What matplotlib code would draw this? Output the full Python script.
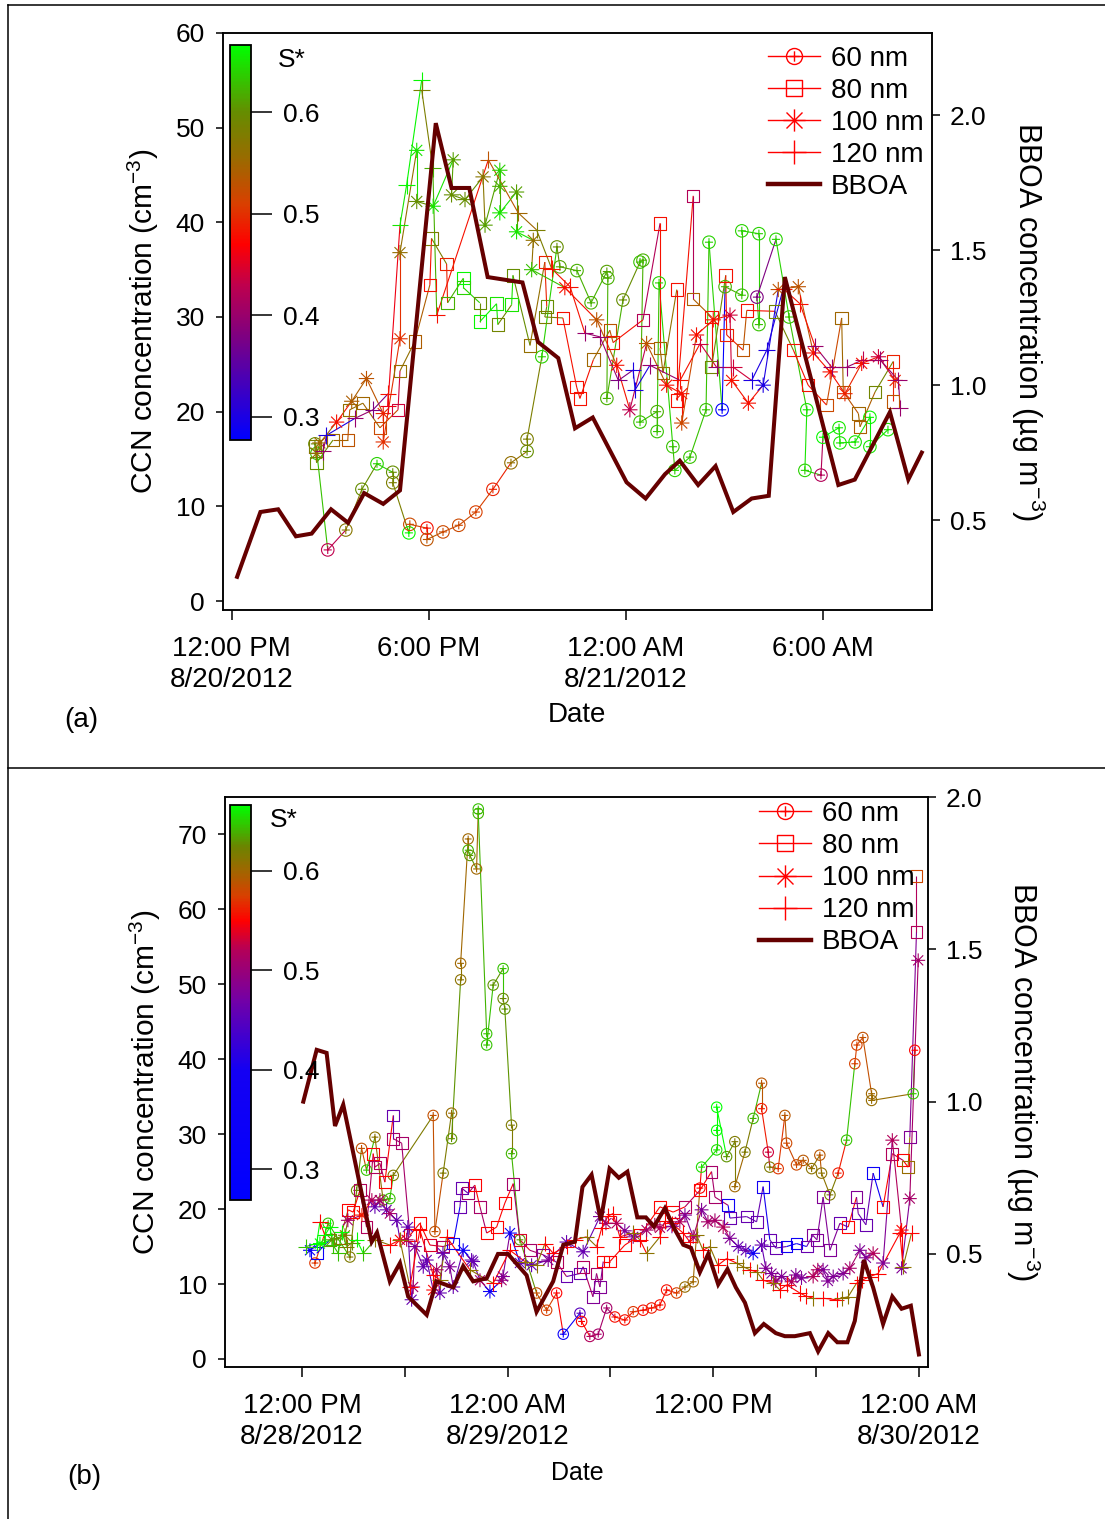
import numpy as np
import matplotlib
matplotlib.use("Agg")
import matplotlib.pyplot as plt
from matplotlib.path import Path
from matplotlib.collections import LineCollection
from matplotlib.colors import LinearSegmentedColormap, Normalize
from matplotlib.cm import ScalarMappable
from matplotlib.lines import Line2D

plt.rcParams['font.family'] = ['Liberation Sans', 'DejaVu Sans']
plt.rcParams['mathtext.default'] = 'regular'
plt.rcParams['axes.linewidth'] = 1.1

# ---------------- panel (a): hours since 8/20/2012 00:00 ----------------
t60a = [14.53, 14.59, 14.92, 15.47, 15.96, 16.42, 16.90, 16.90, 17.39, 17.42, 17.94, 17.94, 18.43, 18.91, 19.43,
        19.95, 20.50, 20.99, 20.99, 21.44, 21.90, 21.99, 22.51, 22.94, 23.42, 23.45, 23.42, 23.91, 24.43, 24.52,
        24.43, 24.95, 24.95, 25.01, 25.43, 25.49, 25.95, 26.44, 26.53, 26.93, 27.02, 27.53, 27.53, 28.05, 28.05,
        27.99, 28.57, 28.97, 29.51, 29.45, 29.94, 30.00, 30.49, 30.52, 30.98, 31.43, 31.43, 31.98]
c60a = [16.6, 15.6, 5.4, 7.5, 11.8, 14.5, 13.6, 12.5, 7.2, 8.1, 7.7, 6.5, 7.3, 8.0, 9.4,
        11.8, 14.6, 15.8, 17.1, 25.8, 37.4, 35.3, 34.9, 31.5, 34.8, 34.1, 21.4, 31.8, 35.8, 36.0,
        18.9, 20.0, 17.9, 33.6, 16.3, 13.8, 15.2, 20.2, 37.9, 20.2, 33.2, 32.3, 39.1, 38.8, 29.2,
        32.1, 38.2, 30.0, 20.2, 13.8, 13.3, 17.3, 18.3, 16.7, 16.8, 19.4, 16.3, 18.1]
s60a = [0.60, 0.63, 0.43, 0.57, 0.60, 0.64, 0.60, 0.58, 0.66, 0.52, 0.48, 0.53, 0.52, 0.52, 0.51,
        0.49, 0.56, 0.60, 0.58, 0.64, 0.60, 0.61, 0.62, 0.62, 0.61, 0.62, 0.62, 0.60, 0.63, 0.62,
        0.63, 0.62, 0.63, 0.64, 0.63, 0.64, 0.63, 0.63, 0.64, 0.28, 0.62, 0.63, 0.64, 0.64, 0.63,
        0.38, 0.64, 0.63, 0.65, 0.64, 0.42, 0.66, 0.65, 0.65, 0.65, 0.66, 0.65, 0.65]

t80a = [14.53, 14.58, 15.08, 15.53, 15.59, 15.99, 16.51, 17.06, 17.12, 17.57, 18.03, 18.08, 18.54, 18.57, 19.05,
        19.05, 19.55, 19.55, 20.06, 20.10, 20.52, 20.56, 21.08, 21.53, 21.59, 21.53, 22.08, 22.50, 22.60, 23.01,
        23.51, 23.61, 24.52, 25.04, 25.04, 25.13, 25.55, 25.55, 26.05, 26.05, 26.61, 26.61, 27.04, 27.07, 27.57,
        27.68, 28.54, 29.10, 29.55, 30.11, 30.57, 30.62, 31.08, 31.13, 31.59, 32.14, 32.14]
c80a = [16.3, 14.6, 17.0, 17.0, 20.2, 20.9, 18.3, 20.2, 24.3, 27.4, 33.4, 38.3, 35.6, 31.5, 34.1,
        33.1, 31.5, 29.5, 31.4, 29.2, 31.3, 34.4, 27.0, 35.8, 31.1, 30.0, 29.9, 22.6, 21.4, 25.5,
        28.6, 27.3, 29.7, 39.9, 26.7, 24.1, 32.9, 21.2, 42.8, 31.9, 30.0, 24.7, 34.4, 28.1, 26.5,
        30.7, 30.6, 26.5, 22.8, 20.7, 29.9, 22.1, 19.8, 18.4, 22.1, 25.3, 21.1]
s80a = [0.58, 0.60, 0.55, 0.53, 0.56, 0.55, 0.52, 0.44, 0.56, 0.54, 0.48, 0.58, 0.49, 0.62, 0.66,
        0.64, 0.60, 0.66, 0.65, 0.59, 0.65, 0.60, 0.56, 0.49, 0.60, 0.58, 0.48, 0.48, 0.48, 0.55,
        0.53, 0.48, 0.42, 0.48, 0.55, 0.56, 0.48, 0.48, 0.42, 0.54, 0.48, 0.59, 0.48, 0.49, 0.53,
        0.48, 0.59, 0.48, 0.48, 0.52, 0.55, 0.53, 0.55, 0.54, 0.59, 0.49, 0.53]

t100a = [14.58, 14.68, 15.19, 15.65, 16.10, 16.61, 16.61, 17.12, 17.12, 17.63, 17.63, 18.13, 18.74, 18.69, 19.10,
         19.65, 19.71, 20.16, 20.16, 20.16, 20.67, 20.67, 21.18, 21.13, 22.14, 23.11, 23.72, 24.12, 24.63, 25.24,
         25.70, 25.70, 26.15, 26.66, 27.17, 27.22, 27.73, 28.18, 28.64, 29.25, 29.71, 30.22, 30.67, 31.18, 31.69,
         32.20]
c100a = [15.6, 16.7, 18.9, 21.1, 23.5, 19.8, 16.8, 27.7, 36.8, 47.6, 42.2, 41.7, 46.6, 42.9, 42.4,
         44.8, 39.7, 45.5, 43.8, 41.0, 43.2, 39.0, 38.1, 35.0, 33.1, 29.7, 24.9, 20.2, 27.2, 22.8,
         21.9, 18.8, 28.1, 29.7, 30.2, 23.3, 20.9, 22.8, 32.9, 33.2, 26.2, 24.2, 21.9, 25.1, 25.8,
         23.3]
s100a = [0.56, 0.55, 0.48, 0.54, 0.53, 0.49, 0.50, 0.50, 0.56, 0.65, 0.60, 0.65, 0.61, 0.60, 0.60,
         0.57, 0.61, 0.64, 0.62, 0.65, 0.61, 0.65, 0.56, 0.63, 0.48, 0.53, 0.48, 0.43, 0.53, 0.48,
         0.48, 0.52, 0.48, 0.48, 0.44, 0.48, 0.48, 0.30, 0.53, 0.53, 0.48, 0.48, 0.49, 0.48, 0.44,
         0.49]

t120a = [14.78, 14.88, 15.75, 16.30, 16.76, 16.75, 17.12, 17.32, 17.78, 17.78, 18.12, 18.24, 19.81, 20.72, 21.28,
         21.74, 22.30, 22.75, 23.21, 23.77, 24.22, 24.28, 24.73, 25.65, 26.26, 26.76, 27.27, 27.83, 28.29, 28.79,
         29.30, 29.76, 30.27, 30.72, 31.23, 31.74, 32.30, 32.35]
c120a = [15.8, 17.5, 19.3, 20.2, 21.9, 20.6, 39.7, 43.9, 55.0, 54.0, 45.7, 30.2, 46.6, 41.0, 39.2,
         35.1, 33.2, 28.3, 27.9, 23.3, 24.4, 22.3, 24.9, 23.3, 27.2, 24.7, 24.7, 23.3, 26.5, 33.0,
         31.4, 26.9, 24.7, 24.7, 25.5, 25.5, 23.3, 20.4]
s120a = [0.40, 0.30, 0.40, 0.38, 0.48, 0.46, 0.65, 0.66, 0.66, 0.58, 0.62, 0.48, 0.53, 0.55, 0.58,
         0.48, 0.48, 0.40, 0.40, 0.38, 0.30, 0.30, 0.40, 0.48, 0.44, 0.40, 0.44, 0.30, 0.30, 0.48,
         0.48, 0.40, 0.40, 0.40, 0.43, 0.40, 0.40, 0.40]

tbba = [12.16, 12.87, 13.41, 13.95, 14.43, 15.02, 15.54, 16.03, 16.61, 17.12, 18.21, 18.69, 19.23, 19.79, 20.85,
        21.32, 21.94, 22.45, 22.99, 24.02, 24.60, 25.19, 25.64, 26.20, 26.73, 27.27, 27.83, 28.35, 28.84, 30.47,
        30.97, 32.04, 32.60, 33.01]
vbba = [0.29, 0.53, 0.54, 0.44, 0.45, 0.54, 0.49, 0.60, 0.56, 0.61, 1.97, 1.73, 1.73, 1.40, 1.38,
        1.16, 1.10, 0.84, 0.88, 0.64, 0.58, 0.67, 0.72, 0.63, 0.70, 0.53, 0.58, 0.59, 1.40, 0.63,
        0.65, 0.90, 0.65, 0.75]

# ---------------- panel (b): hours since 8/28/2012 00:00 ----------------
t60b = [12.76, 13.53, 14.80, 15.19, 15.48, 15.77, 16.26, 16.74, 17.13, 17.33, 19.66, 19.76, 20.24, 20.73, 20.73,
        21.26, 21.26, 21.70, 21.70, 21.80, 22.19, 22.29, 22.29, 22.78, 22.78, 23.16, 23.74, 23.74, 23.84, 24.23,
        24.23, 24.72, 25.69, 26.28, 26.86, 27.25, 28.22, 28.32, 28.80, 29.29, 29.78, 30.26, 30.84, 31.33, 31.91,
        32.40, 32.89, 33.28, 33.86, 34.35, 34.83, 35.22, 35.32, 36.20, 36.20, 36.20, 36.78, 37.26, 37.26, 37.85,
        38.33, 38.82, 38.82, 39.21, 39.30, 39.79, 40.18, 40.28, 40.86, 41.25, 41.74, 42.22, 42.32, 42.81, 43.29,
        43.78, 44.26, 44.38, 44.73, 45.24, 45.24, 47.67, 47.76]
c60b = [12.8, 18.1, 13.6, 22.5, 28.1, 25.2, 29.6, 21.2, 21.4, 24.5, 32.5, 17.0, 24.8, 32.8, 29.4,
        50.6, 52.8, 69.4, 67.9, 67.2, 65.4, 73.4, 72.8, 43.4, 41.9, 49.9, 52.1, 48.1, 46.7, 31.2,
        27.4, 15.9, 8.8, 6.5, 8.8, 3.3, 6.1, 5.0, 3.0, 3.3, 6.8, 5.6, 5.2, 6.3, 6.5,
        6.8, 7.2, 9.2, 8.8, 9.6, 10.3, 22.8, 25.6, 27.9, 30.5, 33.6, 27.0, 29.0, 23.0, 27.6,
        32.1, 36.8, 33.4, 27.6, 25.6, 25.4, 32.5, 28.8, 25.9, 26.5, 25.4, 27.2, 24.8, 21.9, 24.8,
        29.2, 39.4, 41.9, 42.9, 35.4, 34.5, 35.4, 41.2]
s60b = [0.57, 0.645, 0.615, 0.625, 0.585, 0.645, 0.61, 0.625, 0.645, 0.615, 0.585, 0.585, 0.615, 0.605, 0.63,
        0.61, 0.60, 0.60, 0.64, 0.63, 0.60, 0.645, 0.64, 0.645, 0.645, 0.63, 0.645, 0.625, 0.63, 0.615,
        0.64, 0.63, 0.585, 0.575, 0.55, 0.34, 0.45, 0.55, 0.52, 0.51, 0.51, 0.555, 0.555, 0.57, 0.555,
        0.56, 0.555, 0.555, 0.575, 0.605, 0.60, 0.55, 0.655, 0.655, 0.665, 0.665, 0.63, 0.615, 0.60, 0.615,
        0.64, 0.59, 0.56, 0.53, 0.615, 0.57, 0.59, 0.58, 0.58, 0.59, 0.61, 0.59, 0.61, 0.615, 0.56,
        0.645, 0.575, 0.575, 0.585, 0.60, 0.605, 0.645, 0.55]

t80b = [12.86, 13.63, 14.22, 14.70, 14.99, 15.38, 15.77, 16.16, 16.26, 16.55,
        16.84, 17.33, 17.33, 17.82, 18.30, 18.88, 19.47, 20.24, 20.83, 21.22,
        21.32, 21.70, 22.09, 22.39, 22.78, 23.36, 23.84, 24.33, 24.72, 25.30,
        26.08, 26.86, 27.44, 28.22, 28.41, 28.98, 29.19, 29.39, 29.58, 29.97,
        30.84, 31.72, 32.89, 33.66, 34.35, 35.22, 35.90, 36.10, 36.87, 36.97,
        37.95, 38.53, 38.91, 39.30, 39.65, 40.28, 40.86, 41.45, 41.81, 42.05,
        42.41, 42.81, 43.39, 43.87, 44.36, 44.46, 44.91, 45.33, 45.91, 46.45,
        47.08, 47.37, 47.47, 47.86, 47.86]
c80b = [14.1, 15.9, 16.1, 19.9, 19.6, 22.5, 17.6, 27.4, 25.6, 26.1,
        23.6, 32.5, 29.4, 28.8, 16.5, 18.1, 15.2, 15.0, 15.4, 20.3,
        22.8, 22.1, 23.2, 20.3, 16.8, 17.6, 20.8, 23.4, 15.9, 14.5,
        13.9, 12.9, 11.0, 11.4, 12.3, 8.3, 11.4, 9.6, 13.0, 13.0,
        15.2, 16.5, 20.3, 19.6, 20.3, 22.5, 25.0, 21.6, 20.5, 18.8,
        19.0, 18.3, 23.0, 15.9, 14.8, 15.0, 15.4, 15.0, 16.5, 15.9,
        21.6, 14.5, 18.1, 17.6, 21.6, 19.4, 17.9, 24.8, 20.3, 27.4,
        26.5, 25.6, 29.6, 57.0, 64.5]
s80b = [0.34, 0.63, 0.605, 0.55, 0.55, 0.52, 0.52, 0.55, 0.52, 0.52,
        0.55, 0.46, 0.51, 0.51, 0.55, 0.55, 0.535, 0.52, 0.36, 0.46,
        0.46, 0.51, 0.55, 0.51, 0.55, 0.55, 0.55, 0.51, 0.535, 0.51,
        0.48, 0.52, 0.46, 0.46, 0.52, 0.48, 0.51, 0.48, 0.55, 0.55,
        0.55, 0.55, 0.55, 0.55, 0.52, 0.55, 0.51, 0.51, 0.36, 0.46,
        0.46, 0.46, 0.40, 0.46, 0.46, 0.36, 0.36, 0.46, 0.48, 0.48,
        0.48, 0.48, 0.46, 0.55, 0.48, 0.46, 0.46, 0.34, 0.55, 0.52,
        0.55, 0.605, 0.48, 0.52, 0.58]

t100b = [12.47, 13.05, 13.75, 14.51, 14.68, 15.50, 16.08, 16.26, 16.55, 16.94,
         17.13, 17.53, 17.72, 18.11, 18.18, 18.40, 18.49, 18.59, 19.08, 19.28,
         19.66, 19.86, 20.05, 20.23, 20.63, 20.83, 21.41, 21.90, 21.99, 22.39,
         22.97, 23.65, 23.73, 24.14, 24.72, 25.40, 26.37, 27.44, 28.41, 29.39,
         29.74, 30.36, 30.84, 31.33, 32.11, 32.59, 32.89, 33.59, 34.05, 34.35,
         34.83, 35.32, 35.69, 36.10, 36.58, 36.97, 37.46, 37.90, 38.33, 38.82,
         39.07, 39.40, 39.65, 39.99, 40.57, 40.82, 41.15, 41.83, 42.10, 42.41,
         42.69, 43.00, 43.58, 43.97, 44.56, 44.91, 45.33, 45.91, 46.45, 46.99,
         46.99, 47.47, 47.96]
c100b = [14.5, 15.4, 15.9, 16.5, 18.5, 19.2, 21.2, 20.3, 21.2, 19.9,
         19.4, 18.5, 15.9, 15.9, 17.6, 7.9, 9.6, 15.0, 12.3, 13.2,
         9.2, 11.9, 8.8, 14.1, 12.3, 9.6, 14.5, 13.2, 13.0, 10.5,
         9.0, 10.5, 11.0, 16.8, 12.8, 12.5, 13.2, 15.6, 14.3, 19.0,
         18.1, 18.1, 17.1, 16.3, 17.2, 17.9, 17.5, 17.7, 18.3, 19.2,
         16.3, 19.9, 18.3, 18.5, 17.6, 16.1, 15.0, 14.5, 14.1, 15.2,
         12.1, 11.4, 10.4, 11.0, 10.3, 11.2, 10.8, 11.0, 11.9, 11.9,
         10.4, 11.0, 11.4, 12.1, 14.5, 13.5, 14.1, 12.8, 29.2, 17.2,
         12.1, 21.4, 53.2]
s100b = [0.34, 0.665, 0.63, 0.615, 0.51, 0.56, 0.52, 0.46, 0.51, 0.46,
         0.51, 0.46, 0.55, 0.52, 0.46, 0.46, 0.51, 0.48, 0.46, 0.46,
         0.55, 0.51, 0.46, 0.46, 0.48, 0.46, 0.36, 0.46, 0.46, 0.51,
         0.36, 0.51, 0.48, 0.36, 0.46, 0.46, 0.48, 0.46, 0.46, 0.48,
         0.51, 0.52, 0.48, 0.48, 0.51, 0.52, 0.52, 0.48, 0.52, 0.48,
         0.51, 0.48, 0.51, 0.51, 0.52, 0.48, 0.46, 0.46, 0.36, 0.46,
         0.48, 0.48, 0.51, 0.48, 0.52, 0.48, 0.48, 0.52, 0.52, 0.48,
         0.48, 0.48, 0.48, 0.51, 0.48, 0.48, 0.52, 0.48, 0.52, 0.55,
         0.48, 0.51, 0.51]

t120b = [12.23, 12.86, 13.05, 13.34, 13.63, 13.81, 14.12, 14.33, 14.61, 14.92,
         15.19, 15.58, 16.26, 17.13, 17.72, 18.30, 18.88, 19.66, 20.05, 20.44,
         21.80, 23.16, 24.14, 25.01, 25.69, 26.18, 26.66, 27.44, 27.93, 28.61,
         29.19, 29.50, 29.87, 30.16, 30.55, 31.33, 31.72, 32.11, 32.89, 33.18,
         33.57, 34.25, 34.64, 35.03, 35.41, 35.80, 36.27, 36.78, 37.36, 37.75,
         38.14, 38.55, 38.91, 39.50, 39.89, 40.28, 41.05, 41.40, 41.83, 42.41,
         43.20, 43.50, 43.87, 44.36, 44.67, 45.14, 45.62, 46.89, 47.08, 47.57]
c120b = [15.0, 15.4, 18.3, 16.5, 17.6, 15.2, 14.1, 16.9, 15.0, 15.5,
         15.9, 14.1, 15.9, 15.2, 15.9, 9.6, 17.2, 11.2, 10.5, 16.3,
         11.9, 10.1, 14.5, 13.0, 12.5, 15.4, 14.1, 15.0, 15.9, 16.3,
         15.0, 17.5, 19.1, 19.4, 16.3, 16.8, 15.9, 14.1, 16.3, 18.4,
         18.1, 16.8, 15.6, 16.5, 14.5, 15.0, 12.5, 13.4, 12.8, 12.3,
         11.9, 11.6, 10.5, 10.1, 9.2, 9.9, 8.8, 8.4, 8.1, 8.1,
         7.9, 8.1, 8.3, 10.1, 10.5, 11.0, 11.4, 16.8, 12.3, 16.8]
s120b = [0.645, 0.665, 0.55, 0.665, 0.665, 0.645, 0.645, 0.665, 0.615, 0.63,
         0.665, 0.645, 0.61, 0.55, 0.61, 0.55, 0.55, 0.55, 0.61, 0.55,
         0.61, 0.55, 0.55, 0.61, 0.61, 0.55, 0.55, 0.55, 0.55, 0.61,
         0.55, 0.55, 0.55, 0.55, 0.55, 0.61, 0.55, 0.61, 0.55, 0.55,
         0.55, 0.55, 0.55, 0.61, 0.55, 0.61, 0.55, 0.55, 0.61, 0.61,
         0.55, 0.61, 0.55, 0.61, 0.55, 0.55, 0.55, 0.55, 0.61, 0.55,
         0.55, 0.61, 0.61, 0.55, 0.55, 0.55, 0.55, 0.55, 0.61, 0.55]

tbbb = [12.08, 12.86, 13.44, 13.93, 14.41, 16.07, 16.38, 17.13, 17.72, 18.20, 19.28, 19.85, 20.83, 21.41, 21.99,
        22.78, 23.44, 24.02, 25.11, 25.69, 26.66, 27.25, 27.93, 28.37, 28.90, 29.44, 29.95, 30.49, 30.99, 31.57,
        32.07, 32.54, 33.18, 33.76, 34.25, 34.70, 35.22, 35.71, 36.29, 36.83, 37.32, 37.85, 38.43, 38.95, 39.65,
        40.18, 40.76, 41.64, 42.12, 42.71, 43.24, 43.83, 44.26, 44.79, 45.33, 45.91, 46.45, 46.99, 47.53, 48.00]
vbbb = [1.00, 1.17, 1.16, 0.92, 0.99, 0.54, 0.57, 0.41, 0.47, 0.36, 0.30, 0.41, 0.39, 0.46, 0.41,
        0.42, 0.50, 0.50, 0.43, 0.31, 0.41, 0.53, 0.54, 0.72, 0.76, 0.61, 0.78, 0.75, 0.77, 0.62,
        0.62, 0.59, 0.65, 0.58, 0.53, 0.52, 0.44, 0.50, 0.40, 0.45, 0.39, 0.34, 0.24, 0.27, 0.24,
        0.23, 0.23, 0.24, 0.18, 0.24, 0.21, 0.21, 0.28, 0.48, 0.39, 0.27, 0.36, 0.32, 0.33, 0.17]

sizes = ['60 nm', '80 nm', '100 nm', '120 nm']
ticks_a = ['12:00 PM\n8/20/2012', '6:00 PM', '12:00 AM\n8/21/2012', '6:00 AM']
ticks_b = ['12:00 PM\n8/28/2012', '12:00 AM\n8/29/2012', '12:00 PM', '12:00 AM\n8/30/2012']

# S* colour scales (the two colour bars differ a little)
cmap_a = LinearSegmentedColormap.from_list('sa', [
    (0.0, (0, 0, 1)), (0.265, (0.5, 0, 0.5)), (0.393, (0.75, 0, 0.3)), (0.496, (1, 0, 0)),
    (0.599, (0.85, 0.25, 0)), (0.715, (0.6, 0.42, 0)), (0.83, (0.4, 0.55, 0)), (1.0, (0, 1, 0))])
cmap_b = LinearSegmentedColormap.from_list('sb', [
    (0.0, (0, 0, 1)), (0.33, (0.08, 0, 0.95)), (0.506, (0.45, 0, 0.65)), (0.632, (0.7, 0, 0.35)),
    (0.708, (1, 0, 0)), (0.771, (0.85, 0.25, 0)), (0.834, (0.63, 0.4, 0)), (0.897, (0.42, 0.52, 0)),
    (1.0, (0, 1, 0))])
norm_a = Normalize(0.277, 0.666)
norm_b = Normalize(0.269, 0.666)

# marker shapes (Igor style)
MV, LN = Path.MOVETO, Path.LINETO
plus_m = Path([(-1, 0), (1, 0), (0, -1), (0, 1)], [MV, LN, MV, LN])
dd = 0.72
star_m = Path([(-1, 0), (1, 0), (0, -1), (0, 1), (-dd, -dd), (dd, dd), (-dd, dd), (dd, -dd)], [MV, LN] * 4)
square_m = Path([(-1, -1), (1, -1), (1, 1), (-1, 1), (-1, -1)], [MV, LN, LN, LN, Path.CLOSEPOLY])
circ_m = Path.make_compound_path(Path.unit_circle(),
                                 Path([(-.65, 0), (.65, 0), (0, -.65), (0, .65)], [MV, LN, MV, LN]))
markers = [circ_m, square_m, star_m, plus_m]
BBOA_C = '#650000'


def draw_series(ax, t, c, s, cmap, norm, marker, ms):
    cols = cmap(norm(np.asarray(s)))
    pts = np.column_stack([t, c])
    segs = np.stack([pts[:-1], pts[1:]], axis=1)
    ax.add_collection(LineCollection(segs, colors=cols[:-1], linewidths=0.8, zorder=2))
    ax.scatter(t, c, s=ms ** 2, marker=marker, facecolors='none', edgecolors=cols,
               linewidths=0.8, zorder=3)


def panel(fig, rect, cbrect, series, bt, bv, cmap, norm, xlim, ylim, y2lim, yticks,
          xmaj, xlabs, xmin, msz, leg_anchor, stext):
    ax = fig.add_axes(rect)
    for (t, c, s), mk, ms in zip(series, markers, msz):
        draw_series(ax, t, c, s, cmap, norm, mk, ms)
    ax.set_xlim(*xlim)
    ax.set_ylim(*ylim)
    ax.set_yticks(yticks)
    ax.set_xticks(xmaj)
    ax.set_xticklabels(xlabs, linespacing=1.25)
    if xmin:
        ax.set_xticks(xmin, minor=True)
    ax.tick_params(axis='y', direction='out', length=5, width=1.1, labelsize=19, pad=8)
    ax.tick_params(axis='x', which='both', direction='out', length=7, width=1.1, labelsize=20, pad=12)
    ax.set_ylabel('CCN concentration (cm$^{-3}$)', fontsize=21.5)
    ax.yaxis.set_label_coords(-0.088, 0.5)

    ax2 = ax.twinx()
    ax2.plot(bt, bv, color=BBOA_C, lw=2.9, solid_joinstyle='miter')
    ax2.set_ylim(*y2lim)
    ax2.set_yticks([0.5, 1.0, 1.5, 2.0])
    ax2.set_yticklabels(['0.5', '1.0', '1.5', '2.0'])
    ax2.tick_params(axis='y', direction='out', length=6, width=1.1, labelsize=19, pad=7)
    ax2.set_ylabel('BBOA concentration (µg m$^{-3}$)', fontsize=22, rotation=270)
    ax2.yaxis.set_label_coords(1.162, 0.5)

    handles = [Line2D([], [], color='red', lw=1.0, marker=mk, markersize=m,
                      markerfacecolor='none', markeredgecolor='red', markeredgewidth=1.0)
               for mk, m in zip(markers, [11.5, 11.5, 16, 17])]
    handles.append(Line2D([], [], color=BBOA_C, lw=3.2))
    ax2.legend(handles, sizes + ['BBOA'], loc='upper right', bbox_to_anchor=leg_anchor,
               frameon=False, fontsize=20, handlelength=1.87, handletextpad=0.4,
               labelspacing=0.22, borderaxespad=0, borderpad=0, numpoints=1)

    cax = fig.add_axes(cbrect)
    cb = fig.colorbar(ScalarMappable(norm=norm, cmap=cmap), cax=cax, ticks=[0.3, 0.4, 0.5, 0.6])
    cb.set_ticklabels(['0.3', '0.4', '0.5', '0.6'])
    cb.outline.set_linewidth(1.3)
    cax.tick_params(direction='out', length=15, width=1.1, labelsize=19, pad=8)
    fig.text(stext[0], stext[1], 'S*', fontsize=19, ha='left', va='center')
    return ax


fig = plt.figure(figsize=(11.05, 15.19), dpi=100)

panel(fig, [0.2018, 0.5984, 0.6416, 0.3799], [0.2081, 0.7103, 0.019, 0.2600],
      [(t60a, c60a, s60a), (t80a, c80a, s80a), (t100a, c100a, s100a), (t120a, c120a, s120a)],
      tbba, vbba, cmap_a, norm_a, (11.73, 33.32), (-0.95, 60), (0.167, 2.304),
      [0, 10, 20, 30, 40, 50, 60], [12, 18, 24, 30], ticks_a, None, [9, 9, 11, 12],
      (0.988, 0.978), (278 / 1105, 1 - 60 / 1519))

panel(fig, [0.2036, 0.1001, 0.6362, 0.3752], [0.2081, 0.2100, 0.019, 0.2600],
      [(t60b, c60b, s60b), (t80b, c80b, s80b), (t100b, c100b, s100b), (t120b, c120b, s120b)],
      tbbb, vbbb, cmap_b, norm_b, (7.51, 48.53), (-1.07, 75), (0.129, 2.0),
      [0, 10, 20, 30, 40, 50, 60, 70], [12, 24, 36, 48], ticks_b, [18, 30, 42], [7.5, 8.5, 10, 11],
      (0.981, 0.993), (270 / 1105, 1 - 820 / 1519))

fig.text(577 / 1105, 1 - 715 / 1519, 'Date', fontsize=20, ha='center', va='center')
fig.text(577 / 1105, 1 - 1473 / 1519, 'Date', fontsize=18, ha='center', va='center')
fig.text(81 / 1105, 1 - 720 / 1519, '(a)', fontsize=20, ha='center', va='center')
fig.text(84 / 1105, 1 - 1477 / 1519, '(b)', fontsize=20, ha='center', va='center')

# frame lines around the two panels
for xs, ys in [((8, 8), (5, 1519)), ((8, 1105), (5, 5)), ((8, 1105), (768, 768))]:
    fig.add_artist(Line2D([x / 1105 for x in xs], [1 - y / 1519 for y in ys],
                          transform=fig.transFigure, color='black', lw=1.1))

fig.savefig('out.png', dpi=100)
